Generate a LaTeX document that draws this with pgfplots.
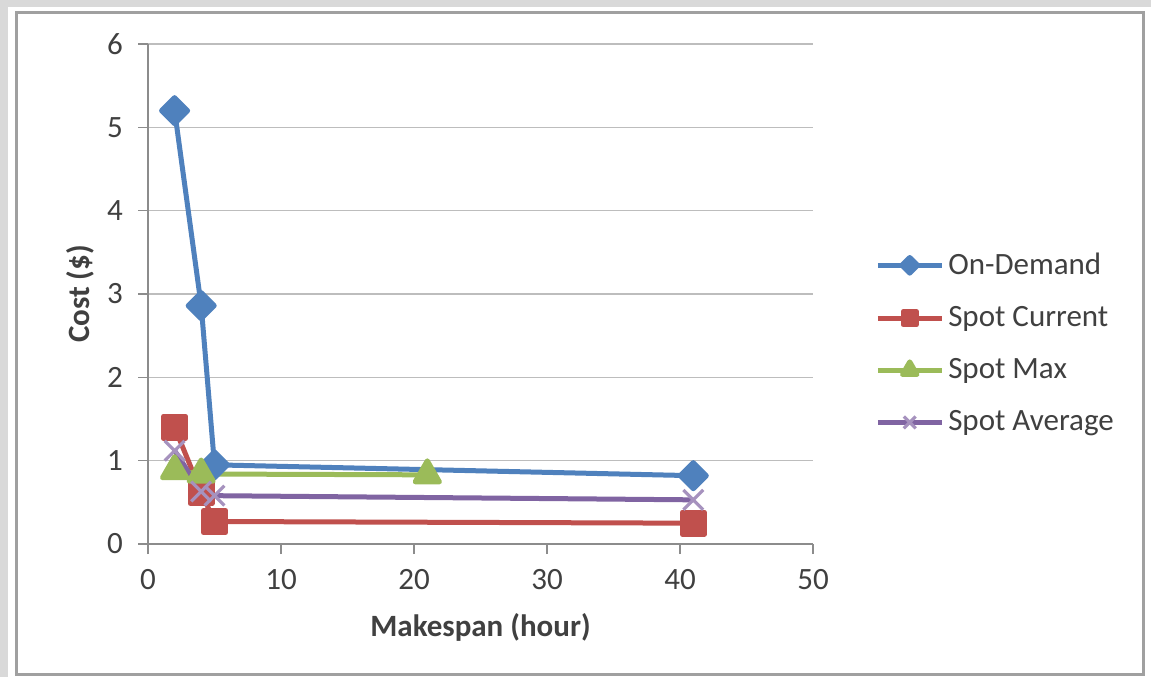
\documentclass[border=0pt]{standalone}
\usepackage{pgfplots}
\pgfplotsset{compat=1.18}
\usepackage{fontspec}
\setmainfont{Carlito}

\definecolor{odblue}{HTML}{4F81BD}
\definecolor{spred}{HTML}{C0504D}
\definecolor{spgreen}{HTML}{9BBB59}
\definecolor{sppurple}{HTML}{8064A2}
\definecolor{txtgray}{HTML}{404040}
\definecolor{axgray}{HTML}{8C8C8C}
\definecolor{gridgray}{HTML}{BDBDBD}
\definecolor{framegray}{HTML}{A0A0A0}
\definecolor{stripgray}{HTML}{D9D9D9}

\newcommand{\chartfont}{\fontsize{15.5pt}{18pt}\selectfont}

\begin{document}
\begin{tikzpicture}
  % page background and chart frame
  \useasboundingbox (0pt,0pt) rectangle (575.5pt,338.5pt);
  \fill[white] (0pt,0pt) rectangle (575.5pt,338.5pt);
  \fill[stripgray] (0pt,0pt) rectangle (4pt,338.5pt);
  \fill[stripgray] (0pt,335pt) rectangle (575.5pt,338.5pt);
  \draw[framegray, line width=1.5pt, fill=white] (8pt,1.5pt) rectangle (571.5pt,332.5pt);

  \begin{axis}[
    at={(74pt,66.5pt)}, anchor=origin,
    scale only axis,
    width=332.5pt, height=250pt,
    xmin=0, xmax=50, ymin=0, ymax=6,
    xtick={0,10,...,50}, ytick={0,1,...,6},
    axis x line=bottom, axis y line=left,
    axis line style={axgray, line width=0.8pt, -},
    tick style={axgray, line width=0.8pt},
    major tick length=5pt,
    tick align=outside,
    ymajorgrids,
    grid style={gridgray, line width=0.8pt},
    /pgf/number format/assume math mode=true,
    tick label style={font=\chartfont, text=txtgray},
    yticklabel style={xshift=-4pt},
    xticklabel style={yshift=-4pt},
    xlabel={Makespan (hour)},
    ylabel={Cost (\$)},
    label style={font=\chartfont\bfseries, text=txtgray},
    xlabel style={at={(axis description cs:0.5,-0.166)}, anchor=center},
    ylabel style={at={(axis description cs:-0.102,0.5)}, anchor=center},
    legend style={
      at={(axis description cs:1.093,0.401)}, anchor=west,
      draw=none, fill=none, font=\chartfont, text=txtgray,
      row sep=10.5pt, inner sep=0pt,
      nodes={inner xsep=2pt},
    },
    legend cell align=left,
    legend image code/.code={
      \draw[mark repeat=2, mark phase=2, every mark/.append style={scale=0.6}]
        plot coordinates {(0pt,0pt) (16pt,0pt) (32pt,0pt)};
    },
    every axis plot/.append style={line width=2.5pt, line join=round},
    clip=false,
  ]
    % On-Demand
    \addplot[color=odblue, mark=square*, mark size=4.6pt,
      mark options={rotate=45, solid}]
      coordinates {(2,5.2) (4,2.86) (5,0.95) (41,0.82)};
    \addlegendentry{On-Demand}

    % Spot Current
    \addplot[color=spred, mark=square*, mark size=5.5pt]
      coordinates {(2,1.40) (4,0.62) (5,0.27) (41,0.25)};
    \addlegendentry{Spot Current}

    % Spot Max
    \addplot[color=spgreen, mark=triangle*, mark size=7pt]
      coordinates {(2,0.88) (4,0.84) (21,0.83)};
    \addlegendentry{Spot Max}

    % Spot Average
    \addplot[color=sppurple, mark=x, mark size=7pt,
      mark options={line width=1.6pt, color=sppurple!70}]
      coordinates {(2,1.12) (4,0.63) (5,0.58) (41,0.53)};
    \addlegendentry{Spot Average}
  \end{axis}
\end{tikzpicture}
\end{document}
